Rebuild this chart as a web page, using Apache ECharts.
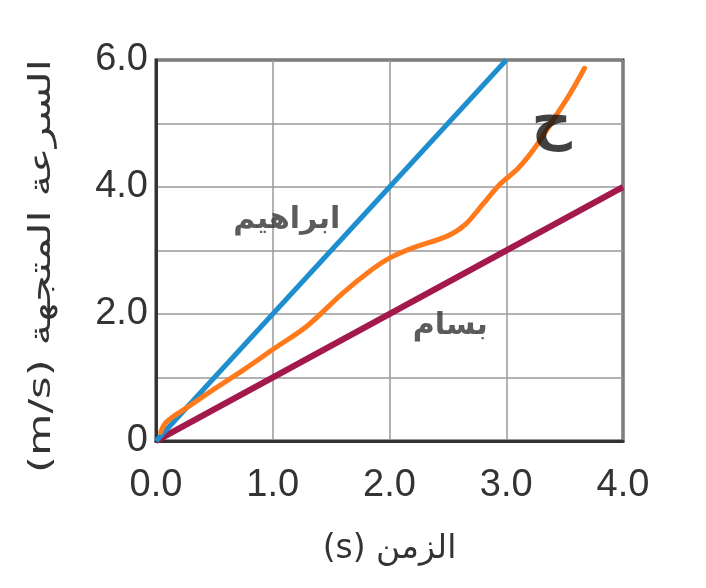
<!doctype html>
<html>
    <head>
        <meta charset="utf-8">
        <style>
            html, body { margin: 0; padding: 0; background: #fff; }
            #main { width: 706px; height: 588px; }
        </style>
    </head>
    <body>
        <div id="main"></div>
        <script src="https://cdn.jsdelivr.net/npm/echarts@6/dist/echarts.min.js"></script>
        <script>
            // ابراهيم (blue) and بسام (crimson) straight lines
            var ibrahimTime = [0, 3.0];
            var ibrahimSpeed = [0, 6.0];
            var bassamTime = [0, 4.0];
            var bassamSpeed = [0, 4.0];

            // hand drawn orange curve
            var curveTime = [0.04, 0.08, 0.16, 0.3, 0.5, 0.75, 1.0, 1.3, 1.6, 1.85, 2.0, 2.2, 2.5, 2.65, 2.8, 2.95, 3.1, 3.25, 3.4, 3.55, 3.67];
            var curveSpeed = [0.14, 0.28, 0.4, 0.57, 0.82, 1.12, 1.44, 1.82, 2.33, 2.7, 2.88, 3.04, 3.23, 3.41, 3.73, 4.05, 4.29, 4.63, 5.05, 5.48, 5.87];

            // text labels on the plot
            var noteText = ['ابراهيم', 'بسام'];
            var noteTime = [1.12, 2.52];
            var noteSpeed = [3.48, 1.8];
            var letterText = ['ح'];
            var letterTime = [3.39];
            var letterSpeed = [5.0];

            var xTicks = ['0.0', '1.0', '2.0', '3.0', '4.0'];
            var yTicks = { 0: '0', 2: '2.0', 4: '4.0', 6: '6.0' };
            var xTitle = '(s) الزمن';
            var yTitle = '(m/s) السرعة المتجهة';

            var numFont = "'Liberation Sans', Arial, sans-serif";
            var arFont = "'DejaVu Sans', sans-serif";

            function pairs(xs, ys) {
                return xs.map(function (x, i) { return [x, ys[i]]; });
            }

            var chart = echarts.init(document.getElementById('main'));
            chart.setOption({
                backgroundColor: '#fff',
                animation: false,
                grid: {
                    left: 156, right: 83, top: 60, bottom: 147,
                    show: true,
                    borderColor: '#333',
                    borderWidth: 3
                },
                // y title drawn as a stretched text so it runs the full height like the original
                graphic: [{
                    type: 'text',
                    x: 42,
                    y: 266,
                    rotation: Math.PI / 2,
                    scaleX: 1.45,
                    style: {
                        text: yTitle,
                        font: '30px ' + arFont,
                        fill: '#333',
                        align: 'center',
                        verticalAlign: 'middle'
                    }
                }],
                xAxis: {
                    type: 'value',
                    min: 0, max: 4, interval: 1,
                    name: xTitle,
                    nameLocation: 'middle',
                    nameGap: 92,
                    nameTextStyle: { fontSize: 33, color: '#333', fontFamily: arFont },
                    axisLine: { show: true, lineStyle: { color: '#333', width: 3 } },
                    axisTick: { show: false },
                    axisLabel: {
                        margin: 26,
                        fontSize: 38,
                        color: '#333',
                        fontFamily: numFont,
                        formatter: function (v) { return xTicks[Math.round(v)]; }
                    },
                    splitLine: { show: true, lineStyle: { color: '#999', width: 1.5 } }
                },
                yAxis: {
                    type: 'value',
                    min: 0, max: 6, interval: 1,
                    axisLine: { show: true, lineStyle: { color: '#333', width: 3 } },
                    axisTick: { show: false },
                    axisLabel: {
                        margin: 8,
                        fontSize: 38,
                        color: '#333',
                        fontFamily: numFont,
                        padding: [16, 0, 0, 0],
                        formatter: function (v) { return yTicks[v] || ''; }
                    },
                    splitLine: { show: true, lineStyle: { color: '#999', width: 1.5 } }
                },
                series: [
                    {
                        type: 'line',
                        data: pairs(bassamTime, bassamSpeed),
                        symbol: 'none',
                        lineStyle: { color: '#a3194c', width: 6 },
                        z: 3
                    },
                    {
                        type: 'line',
                        data: pairs(ibrahimTime, ibrahimSpeed),
                        symbol: 'none',
                        lineStyle: { color: '#1e8ecf', width: 5 },
                        z: 4
                    },
                    {
                        type: 'line',
                        data: pairs(curveTime, curveSpeed),
                        symbol: 'none',
                        smooth: 0.35,
                        lineStyle: { color: '#ff7a1c', width: 5, cap: 'round' },
                        z: 5
                    },
                    {
                        type: 'scatter',
                        symbolSize: 0,
                        data: noteTime.map(function (x, i) {
                            return { value: [x, noteSpeed[i]], name: noteText[i] };
                        }),
                        label: {
                            show: true,
                            position: 'inside',
                            formatter: '{b}',
                            fontSize: 30,
                            fontWeight: 'bold',
                            color: '#333',
                            fontFamily: arFont
                        },
                        z: 6
                    },
                    {
                        type: 'scatter',
                        symbolSize: 0,
                        data: letterTime.map(function (x, i) {
                            return { value: [x, letterSpeed[i]], name: letterText[i] };
                        }),
                        label: {
                            show: true,
                            position: 'inside',
                            formatter: '{b}',
                            fontSize: 56,
                            fontWeight: 'bold',
                            color: '#111',
                            fontFamily: arFont
                        },
                        z: 7
                    }
                ]
            });

            window.onresize = chart.resize;
        </script>
    </body>
</html>
